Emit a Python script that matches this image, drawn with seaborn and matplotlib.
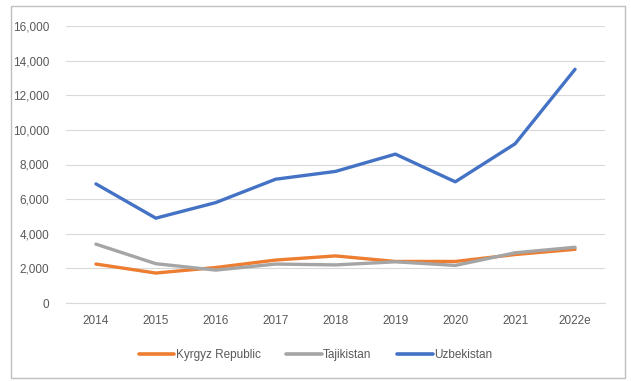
import matplotlib
matplotlib.use("Agg")
import matplotlib.pyplot as plt
import seaborn as sns
import pandas as pd
from matplotlib.patches import Rectangle
from matplotlib.ticker import FuncFormatter

years = ["2014", "2015", "2016", "2017", "2018", "2019", "2020", "2021", "2022e"]
kyrgyz = [2250, 1730, 2050, 2480, 2720, 2400, 2400, 2800, 3100]
tajik = [3400, 2270, 1900, 2250, 2200, 2380, 2170, 2900, 3220]
uzbek = [6880, 4900, 5800, 7150, 7600, 8600, 7000, 9200, 13500]
series_names = ["Kyrgyz Republic", "Tajikistan", "Uzbekistan"]
colors = ["#ED7D31", "#A5A5A5", "#4472C4"]

df = pd.DataFrame({
    "year": years * 3,
    "value": kyrgyz + tajik + uzbek,
    "country": [series_names[0]] * 9 + [series_names[1]] * 9 + [series_names[2]] * 9,
})

sns.set_theme(style="white")
plt.rcParams["font.family"] = ["Liberation Sans", "DejaVu Sans"]

fig = plt.figure(figsize=(6.31, 3.81), dpi=100)
ax = fig.add_axes([66 / 631, 1 - 303 / 381, (605 - 66) / 631, (303 - 26) / 381])

sns.lineplot(data=df, x="year", y="value", hue="country", palette=colors,
             hue_order=series_names, sort=False, linewidth=2.4, ax=ax, legend=False)

ax.set_ylim(0, 16000)
ax.set_xlim(-0.5, 8.5)
ax.set_yticks(range(0, 16001, 2000))
ax.yaxis.set_major_formatter(FuncFormatter(lambda v, p: f"{int(v):,}"))
ax.grid(axis="y", color="#D9D9D9", linewidth=0.8)
ax.set_axisbelow(True)
for s in ["top", "right", "left"]:
    ax.spines[s].set_visible(False)
ax.spines["bottom"].set_color("#D9D9D9")
ax.spines["bottom"].set_linewidth(0.8)
ax.tick_params(axis="both", length=0, labelsize=8.5, colors="#595959")
ax.tick_params(axis="x", pad=9)
ax.tick_params(axis="y", pad=12)
ax.set_xlabel("")
ax.set_ylabel("")

handles = [plt.Line2D([0], [0], color=c, lw=2.6) for c in colors]
fig.legend(handles, series_names, loc="center", bbox_to_anchor=(0.5, 1 - 355 / 381),
           ncol=3, frameon=False, fontsize=8.5, labelcolor="#595959",
           handlelength=3.0, handletextpad=0.1, columnspacing=2.2)

fig.patches.append(Rectangle((11 / 631, 1 - 378 / 381), (625 - 11) / 631, (378 - 6) / 381,
                             transform=fig.transFigure, fill=False, edgecolor="#BFBFBF",
                             linewidth=1.0))

fig.savefig("out.png", dpi=100, facecolor="white")
